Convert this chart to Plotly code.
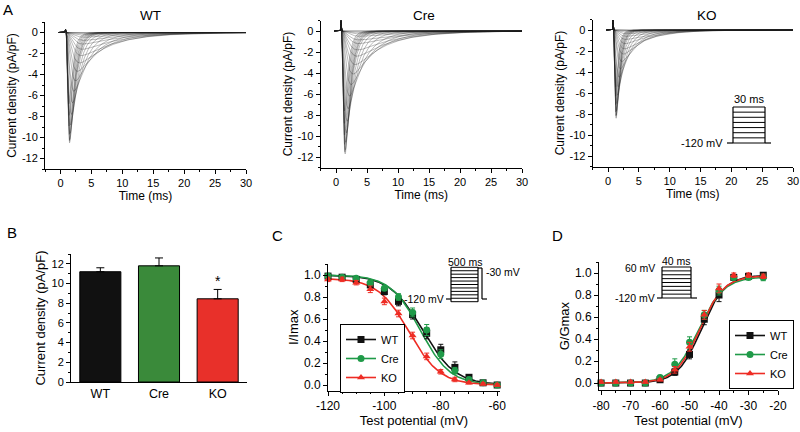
import numpy as np
import plotly.graph_objects as go

# ---------------- data ----------------
# Panel A: sodium current sweeps (peak amplitude per voltage step, pA/pF)
amps_WT = [-0.03, -0.06, -0.12, -0.25, -0.45, -0.75, -1.1, -1.6, -2.2, -2.9, -3.7, -4.6,
           -5.6, -6.7, -7.8, -8.8, -9.6, -10.2, -10.5, -10.3, -9.7, -8.9, -7.9, -6.8]
amps_Cre = [-0.03, -0.07, -0.14, -0.28, -0.5, -0.85, -1.2, -1.8, -2.4, -3.2, -4.1, -5.1,
            -6.2, -7.4, -8.6, -9.7, -10.6, -11.3, -11.7, -11.5, -10.8, -9.9, -8.8, -7.6]
amps_KO = [-0.02, -0.05, -0.1, -0.2, -0.36, -0.6, -0.9, -1.3, -1.8, -2.3, -3.0, -3.7,
           -4.5, -5.4, -6.2, -7.0, -7.7, -8.1, -8.4, -8.2, -7.8, -7.1, -6.3, -5.4]
# activation / inactivation time constants of each sweep (ms)
tau_m = [1.2, 1.15, 1.1, 1.05, 1.0, 0.95, 0.9, 0.85, 0.8, 0.72, 0.62, 0.52,
         0.44, 0.38, 0.33, 0.29, 0.26, 0.24, 0.23, 0.22, 0.21, 0.2, 0.2, 0.2]
tau_h = [7.0, 7.0, 7.0, 7.0, 7.0, 6.8, 6.5, 6.2, 5.8, 5.0, 4.0, 3.2,
         2.5, 1.9, 1.5, 1.2, 1.0, 0.9, 0.85, 0.8, 0.75, 0.7, 0.65, 0.6]
kinetic_scale = {"WT": 1.0, "Cre": 1.0, "KO": 0.72}
artifact_amp = {"WT": 0.3, "Cre": 1.0, "KO": 0.9}
step_onset_ms = 0.9

# Panel B
groups = ["WT", "Cre", "KO"]
peak_density = [11.2, 11.8, 8.45]
peak_sem = [0.4, 0.8, 0.95]

# Panel C: steady-state inactivation
V_inact = [-120, -115, -110, -105, -100, -95, -90, -85, -80, -75, -70, -65, -60]
C_WT = [0.99, 0.98, 0.96, 0.91, 0.85, 0.76, 0.64, 0.47, 0.32, 0.16, 0.07, 0.02, 0.0]
C_WT_err = [0.01, 0.01, 0.02, 0.02, 0.03, 0.04, 0.04, 0.05, 0.05, 0.05, 0.02, 0.01, 0.01]
C_Cre = [0.99, 0.98, 0.97, 0.93, 0.88, 0.80, 0.66, 0.50, 0.28, 0.13, 0.05, 0.02, 0.0]
C_Cre_err = [0.01, 0.01, 0.01, 0.02, 0.02, 0.03, 0.04, 0.05, 0.04, 0.03, 0.02, 0.01, 0.01]
C_KO = [0.96, 0.96, 0.93, 0.87, 0.76, 0.65, 0.45, 0.26, 0.12, 0.05, 0.02, 0.01, 0.0]
C_KO_err = [0.02, 0.02, 0.02, 0.03, 0.03, 0.03, 0.03, 0.03, 0.02, 0.02, 0.01, 0.01, 0.01]
C_fit = {"WT": (-86.5, 5.8, 1.0), "Cre": (-87.3, 5.3, 1.0), "KO": (-91.3, 5.5, 0.97)}

# Panel D: activation
V_act = [-80, -75, -70, -65, -60, -55, -50, -45, -40, -35, -30, -25]
D_WT = [0.0, 0.0, 0.0, 0.0, 0.03, 0.10, 0.26, 0.58, 0.80, 0.96, 0.97, 0.98]
D_WT_err = [0.01, 0.01, 0.01, 0.01, 0.01, 0.03, 0.04, 0.05, 0.06, 0.02, 0.02, 0.02]
D_Cre = [0.0, 0.0, 0.0, 0.0, 0.05, 0.17, 0.37, 0.62, 0.84, 0.96, 0.96, 0.96]
D_Cre_err = [0.01, 0.01, 0.01, 0.01, 0.02, 0.05, 0.05, 0.04, 0.04, 0.02, 0.02, 0.03]
D_KO = [0.01, 0.01, 0.01, 0.01, 0.03, 0.12, 0.33, 0.62, 0.86, 0.98, 0.98, 0.97]
D_KO_err = [0.01, 0.01, 0.01, 0.01, 0.01, 0.03, 0.04, 0.04, 0.04, 0.02, 0.02, 0.02]
D_fit = {"WT": (-46.0, 4.0, 0.98), "Cre": (-47.0, 4.3, 0.965), "KO": (-46.6, 4.1, 0.975)}

# tick labels (hyphen minus, as in the original figure)
A_xticks = [0, 5, 10, 15, 20, 25, 30]
A_yticks = [-12, -10, -8, -6, -4, -2, 0]
B_yticks = [0, 2, 4, 6, 8, 10, 12]
C_xticks = [-120, -100, -80, -60]
D_xticks = [-80, -70, -60, -50, -40, -30, -20]
frac_ticks = [0.0, 0.2, 0.4, 0.6, 0.8, 1.0]

# ---------------- style ----------------
W, H = 800, 432
FONT = "Liberation Sans, Arial, sans-serif"
COL = {"WT": "#111111", "Cre": "#1f9a48", "KO": "#ee2c24"}
BAR_COL = {"WT": "#111111", "Cre": "#3a8a3a", "KO": "#e8302a"}
SYM = {"WT": "square", "Cre": "circle", "KO": "triangle-up"}


def px(x):
    return x / W


def py(y):
    return 1 - y / H


fig = go.Figure()

# ---------------- Panel A ----------------
t = np.arange(-0.3, 30.0001, 0.02)
amp_sets = {"WT": amps_WT, "Cre": amps_Cre, "KO": amps_KO}
axis_ids = {"WT": ("x", "y"), "Cre": ("x2", "y2"), "KO": ("x3", "y3")}
for g in groups:
    xs, ys = [], []
    ks = kinetic_scale[g]
    for amp, tm, th in zip(amp_sets[g], tau_m, tau_h):
        s = t - step_onset_ms
        sp = np.clip(s, 0, None)
        shape = (1 - np.exp(-sp / (tm * ks))) ** 3 * np.exp(-sp / (th * ks))
        shape = np.where(s > 0, shape, 0.0)
        shape = shape / shape.max()
        cur = amp * shape + artifact_amp[g] * np.exp(-((t - 0.82) / 0.06) ** 2)
        xs.extend(list(t) + [None])
        ys.extend(list(cur) + [None])
    xa, ya = axis_ids[g]
    fig.add_trace(go.Scatter(x=xs, y=ys, mode="lines", xaxis=xa, yaxis=ya,
                             line=dict(color="rgba(30,30,30,0.6)", width=0.5),
                             showlegend=False, hoverinfo="skip"))

# ---------------- Panel B ----------------
fig.add_trace(go.Bar(x=groups, y=peak_density, xaxis="x4", yaxis="y4", width=0.7,
                     marker=dict(color=[BAR_COL[g] for g in groups],
                                 line=dict(color="#000", width=1)),
                     error_y=dict(type="data", array=peak_sem,
                                  arrayminus=[0] * 3, symmetric=False,
                                  color="#000", thickness=1, width=4),
                     showlegend=False))

# ---------------- Panel C ----------------
vfit_c = np.linspace(-120, -60, 200)
for g in groups:
    v_half, k, top = C_fit[g]
    fig.add_trace(go.Scatter(x=vfit_c, y=top / (1 + np.exp((vfit_c - v_half) / k)),
                             mode="lines", xaxis="x5", yaxis="y5",
                             line=dict(color=COL[g], width=1.6),
                             showlegend=False, hoverinfo="skip"))
for g, yv, ye in [("WT", C_WT, C_WT_err), ("Cre", C_Cre, C_Cre_err), ("KO", C_KO, C_KO_err)]:
    fig.add_trace(go.Scatter(x=V_inact, y=yv, mode="markers", xaxis="x5", yaxis="y5",
                             marker=dict(symbol=SYM[g], color=COL[g], size=7),
                             error_y=dict(type="data", array=ye, color=COL[g],
                                          thickness=1, width=2.5),
                             cliponaxis=False, showlegend=False))
    fig.add_trace(go.Scatter(x=[None], y=[None], mode="lines+markers", xaxis="x5", yaxis="y5",
                             name=g, legend="legend",
                             marker=dict(symbol=SYM[g], color=COL[g], size=7),
                             line=dict(color=COL[g], width=1.6)))

# ---------------- Panel D ----------------
vfit_d = np.linspace(-80, -25, 200)
for g in groups:
    v_half, k, top = D_fit[g]
    fig.add_trace(go.Scatter(x=vfit_d, y=top / (1 + np.exp((v_half - vfit_d) / k)),
                             mode="lines", xaxis="x6", yaxis="y6",
                             line=dict(color=COL[g], width=1.6),
                             showlegend=False, hoverinfo="skip"))
for g, yv, ye in [("WT", D_WT, D_WT_err), ("Cre", D_Cre, D_Cre_err), ("KO", D_KO, D_KO_err)]:
    fig.add_trace(go.Scatter(x=V_act, y=yv, mode="markers", xaxis="x6", yaxis="y6",
                             marker=dict(symbol=SYM[g], color=COL[g], size=7),
                             error_y=dict(type="data", array=ye, color=COL[g],
                                          thickness=1, width=2.5),
                             cliponaxis=False, showlegend=False))
    fig.add_trace(go.Scatter(x=[None], y=[None], mode="lines+markers", xaxis="x6", yaxis="y6",
                             name=g, legend="legend2",
                             marker=dict(symbol=SYM[g], color=COL[g], size=7),
                             line=dict(color=COL[g], width=1.6)))

# ---------------- axes ----------------
tickfont = dict(family=FONT, size=11, color="#000")
titlefont = dict(family=FONT, size=12, color="#000")


def ax(domain, rng, ticks, minor_dtick=None, title=None, fmt="{:g}",
       tfont=None, **kw):
    d = dict(domain=domain, range=rng, showline=True, linecolor="#000", linewidth=1,
             ticks="outside", ticklen=4, tickcolor="#000", tickwidth=1,
             showgrid=False, zeroline=False, tickfont=tickfont, fixedrange=True,
             automargin=False, tickmode="array", tickvals=ticks,
             ticktext=[fmt.format(v) for v in ticks])
    if minor_dtick is not None:
        d["minor"] = dict(ticks="outside", ticklen=2, dtick=minor_dtick, tick0=0,
                          tickcolor="#000", showgrid=False)
    if title:
        d["title"] = dict(text=title, font=tfont or titlefont, standoff=2)
    d.update(kw)
    return d


layout = dict(
    width=W, height=H, margin=dict(l=0, r=0, t=0, b=0, autoexpand=False),
    paper_bgcolor="white", plot_bgcolor="white",
    font=dict(family=FONT, color="#000"),
    bargap=0.3,
)
A_geo = {
    "WT": (45, 246, 169, 22),
    "Cre": (320.5, 522, 167.5, 20.5),
    "KO": (592.6, 793, 166.5, 19.5),
}
for i, g in enumerate(groups):
    x0, x1, yb, yt = A_geo[g]
    xn = "xaxis" if i == 0 else f"xaxis{i + 1}"
    yn = "yaxis" if i == 0 else f"yaxis{i + 1}"
    anchor_x = "y" if i == 0 else f"y{i + 1}"
    anchor_y = "x" if i == 0 else f"x{i + 1}"
    layout[xn] = ax([px(x0), px(x1)], [-2.5, 30], A_xticks, 2.5, "Time (ms)", anchor=anchor_x)
    layout[yn] = ax([py(yb), py(yt)], [-13, 1], A_yticks, 1, "Current density (pA/pF)",
                    anchor=anchor_y)
# B
layout["xaxis4"] = dict(domain=[px(71), px(247)], range=[-0.5, 2.5], showline=True,
                        linecolor="#000", linewidth=1, ticks="", showgrid=False,
                        tickfont=dict(family=FONT, size=12.5, color="#000"),
                        anchor="y4", fixedrange=True, automargin=False)
layout["yaxis4"] = ax([py(382), py(254)], [0, 13], B_yticks, 1, "Current density (pA/pF)",
                      anchor="x4", tfont=dict(family=FONT, size=13, color="#000"))
# C
big_tick = dict(family=FONT, size=12, color="#000")
big_title = dict(family=FONT, size=13, color="#000")
layout["xaxis5"] = ax([px(328), px(500)], [-120, -59], C_xticks, 5, "Test potential (mV)",
                      anchor="y5", tickfont=big_tick, tfont=big_title)
layout["yaxis5"] = ax([py(390.5), py(264)], [-0.05, 1.1], frac_ticks, 0.1, "I/Imax",
                      fmt="{:.1f}", anchor="x5", tickfont=big_tick, tfont=big_title)
# D
layout["xaxis6"] = ax([px(599), px(778)], [-80.7, -20], D_xticks, 5, "Test potential (mV)",
                      anchor="y6", tickfont=big_tick, tfont=big_title)
layout["yaxis6"] = ax([py(390.2), py(262)], [-0.065, 1.1], frac_ticks, 0.1, "G/Gmax",
                      fmt="{:.1f}", anchor="x6", tickfont=big_tick, tfont=big_title)

leg_style = dict(bgcolor="white", bordercolor="#000", borderwidth=1,
                 font=dict(family=FONT, size=11, color="#000"),
                 itemwidth=30, tracegroupgap=0, xanchor="left", yanchor="top")
layout["legend"] = dict(x=px(340), y=py(324), **leg_style)
layout["legend2"] = dict(x=px(729), y=py(320), **leg_style)
fig.update_layout(**layout)

# ---------------- annotations ----------------
ann = []


def text(x, y, s, size=11, xanchor="center", yanchor="middle"):
    ann.append(dict(x=px(x), y=py(y), xref="paper", yref="paper", text=s, showarrow=False,
                    xanchor=xanchor, yanchor=yanchor,
                    font=dict(family=FONT, size=size, color="#000")))


for lab, (x, y) in {"A": (8, 10), "B": (12, 232), "C": (277, 235), "D": (557, 235)}.items():
    text(x, y, lab, size=15)
for g, xc in zip(groups, [150, 424, 707]):
    text(xc, 16, g, size=13.5)
ann.append(dict(x="KO", y=peak_density[2] + peak_sem[2] + 0.9, xref="x4", yref="y4",
                text="*", showarrow=False, font=dict(family=FONT, size=14, color="#000")))

shapes = []


def seg(x0, y0, x1, y1, w=1.2):
    shapes.append(dict(type="line", xref="paper", yref="paper", x0=px(x0), y0=py(y0),
                       x1=px(x1), y1=py(y1), line=dict(color="#000", width=w)))


def protocol(xl, xr, yt, yb, n, stub_l, stub_r):
    for yy in np.linspace(yt, yb, n):
        seg(xl, yy, xr, yy, 1)
    seg(xl, yt, xl, yb)
    seg(xr, yt, xr, yb)
    seg(xl - stub_l, yb, xl, yb)
    seg(xr, yb, xr + stub_r, yb)


# A-KO inset
protocol(733, 765, 107, 143, 8, 6, 6)
text(749, 99, "30 ms", size=11)
text(725, 143, "-120 mV", size=11, xanchor="right")
# C inset
for yy in np.linspace(267.3, 301.7, 11):
    seg(451, yy, 478, yy, 1)
seg(451, 267.3, 451, 301.7)
seg(478, 267.3, 478, 301.7)
seg(478, 268, 482, 268)
seg(482, 268, 482, 299)
seg(482, 299, 487, 299)
seg(446, 299, 451, 299)
text(465, 262, "500 ms", size=10.5)
text(484, 272, "-30 mV", size=10.5, xanchor="left")
text(446, 299, "-120 mV", size=10.5, xanchor="right")
# D inset
protocol(662, 691, 267, 298, 9, 5, 6)
text(676, 261, "40 ms", size=10.5)
text(657, 268, "60 mV", size=10.5, xanchor="right")
text(657, 298, "-120 mV", size=10.5, xanchor="right")

fig.update_layout(annotations=ann, shapes=shapes)
fig.write_html("out.html", config={"displayModeBar": False},
               post_script="document.body.style.margin='0px';"
                           "document.body.style.overflow='hidden';")
